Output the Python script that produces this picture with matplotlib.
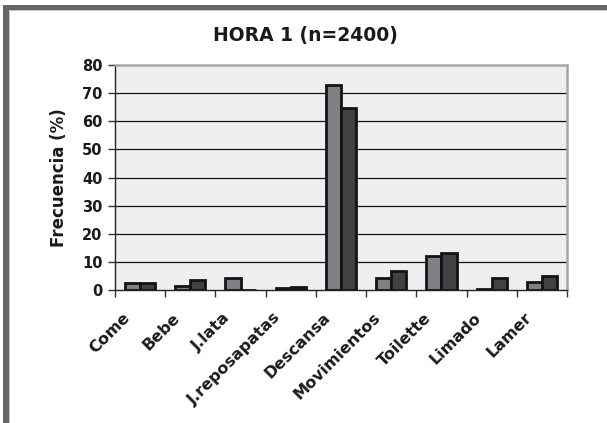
import matplotlib
matplotlib.use("Agg")
import matplotlib.pyplot as plt
from matplotlib.patches import Rectangle
from matplotlib.transforms import ScaledTranslation, blended_transform_factory
import numpy as np

plt.rcParams['font.family'] = ['DejaVu Sans']
plt.rcParams['font.weight'] = 'bold'

categories = ["Come", "Bebe", "J.lata", "J.reposapatas", "Descansa",
              "Movimientos", "Toilette", "Limado", "Lamer"]
serie_a = [2.6, 1.5, 4.3, 0.8, 72.9, 4.4, 12.1, 0.4, 3.0]
serie_b = [2.6, 3.4, 0.0, 1.2, 64.8, 6.9, 13.3, 4.1, 5.1]
yticks = [0, 10, 20, 30, 40, 50, 60, 70, 80]

W, H = 607, 423
fig = plt.figure(figsize=(W / 100, H / 100), dpi=100)
fig.patch.set_facecolor("white")

# Frame of the chart (left and top edges)
fig.patches.append(Rectangle((3 / W, 0), 6 / W, (H - 5) / H, transform=fig.transFigure,
                             facecolor="#666666", edgecolor="none", zorder=0))
fig.patches.append(Rectangle((9 / W, 0), 1.2 / W, (H - 10) / H, transform=fig.transFigure,
                             facecolor="#c8c8c8", edgecolor="none", zorder=0))
fig.patches.append(Rectangle((3 / W, (H - 10) / H), (W - 3) / W, 5 / H, transform=fig.transFigure,
                             facecolor="#666666", edgecolor="none", zorder=0))
fig.patches.append(Rectangle((9 / W, (H - 11.2) / H), (W - 9) / W, 1.2 / H, transform=fig.transFigure,
                             facecolor="#c8c8c8", edgecolor="none", zorder=0))

left, right, top, bottom = 115, 567, 65, 290
ax = fig.add_axes([left / W, 1 - bottom / H, (right - left) / W, (bottom - top) / H])
ax.set_facecolor("#eeeff1")

x = np.arange(len(categories))
bw = 0.3
ax.bar(x - bw / 2, serie_a, width=bw, color="#808184", edgecolor="#141414",
       linewidth=2.0, zorder=3)
ax.bar(x + bw / 2, serie_b, width=bw, color="#404142", edgecolor="#141414",
       linewidth=2.0, zorder=3)

ax.set_xlim(-0.5, len(categories) - 0.5)
ax.set_ylim(0, 80)
ax.set_yticks(yticks)
ax.set_yticklabels([str(v) for v in yticks], fontsize=10.5, fontweight='bold',
                   color="#1a1a1a")
for v in yticks[1:-1]:
    ax.axhline(v, color="#111111", linewidth=0.9, zorder=1)

# Category boundaries as ticks; names placed as rotated text under each group
ax.set_xticks(np.arange(len(categories) + 1) - 0.5)
ax.set_xticklabels([])
ax.tick_params(axis='x', length=5, width=1, color="#333333", direction='out')
ax.tick_params(axis='y', length=5, width=1, color="#333333", direction='out', pad=4)

label_tf = (blended_transform_factory(ax.transData, ax.transAxes)
            + ScaledTranslation(-18 / 100, -20 / 100, fig.dpi_scale_trans))
for xi, name in zip(x, categories):
    ax.text(xi, 0, name, transform=label_tf, rotation=45, ha='right', va='top',
            rotation_mode='anchor', fontsize=11.5, fontweight='bold',
            color="#1a1a1a", clip_on=False)

for side in ("top", "right"):
    ax.spines[side].set_color("#a6a6a6")
    ax.spines[side].set_linewidth(1.8)
ax.spines["left"].set_color("#222222")
ax.spines["left"].set_linewidth(1.0)
ax.spines["bottom"].set_color("#222222")
ax.spines["bottom"].set_linewidth(1.0)

ax.set_ylabel("Frecuencia (%)", fontsize=12, fontweight='bold', labelpad=10,
              color="#1a1a1a")
fig.text(305 / W, 1 - 35 / H, "HORA 1 (n=2400)", ha='center', va='center',
         fontsize=13.5, fontweight='bold', color="#1a1a1a")

fig.savefig("out.png", dpi=100)
